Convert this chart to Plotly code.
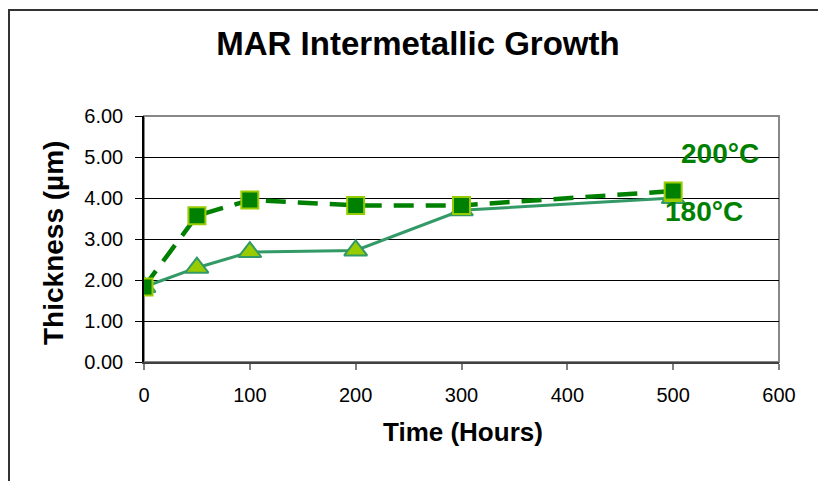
import plotly.graph_objects as go

# ---- data ----
hours_180 = [0, 50, 100, 200, 300, 500]
thick_180 = [1.83, 2.30, 2.68, 2.72, 3.70, 4.00]
hours_200 = [0, 50, 100, 200, 300, 500]
thick_200 = [1.83, 3.57, 3.95, 3.82, 3.82, 4.17]
x_ticks = [0, 100, 200, 300, 400, 500, 600]
y_ticks = [0, 1, 2, 3, 4, 5, 6]
title_text = "MAR Intermetallic Growth"
x_title = "Time (Hours)"
y_title = "Thickness (µm)"
labels = ["180°C", "200°C"]

W, H = 818, 481
L, R, T, B = 144, 39, 116, 119
PW, PH = W - L - R, H - T - B


def px(x):
    return (x - L) / PW


def py(y):
    return (H - B - y) / PH


FONT = "Liberation Sans, Arial, sans-serif"
DARK = "#008000"
SEA = "#339966"
LIME = "#99CC00"

fig = go.Figure()
fig.add_trace(go.Scatter(
    x=hours_180, y=thick_180, mode="lines+markers", name=labels[0],
    line=dict(color=SEA, width=3),
    marker=dict(symbol="triangle-up", size=20, color=LIME,
                line=dict(color=SEA, width=2)),
))
fig.add_trace(go.Scatter(
    x=hours_200, y=thick_200, mode="lines+markers", name=labels[1],
    line=dict(color=DARK, width=4.5, dash="20px,12px"),
    marker=dict(symbol="square", size=17, color=DARK,
                line=dict(color=LIME, width=2)),
))

fig.update_layout(
    width=W, height=H,
    margin=dict(l=L, r=R, t=T, b=B, pad=0),
    paper_bgcolor="white", plot_bgcolor="white",
    showlegend=False,
    font=dict(family=FONT, color="black"),
    title=dict(text=f"<b>{title_text}</b>", x=418 / W, xref="container",
               y=1 - 43 / H, yref="container", xanchor="center", yanchor="middle",
               font=dict(size=33, family=FONT, color="black")),
)
fig.update_xaxes(
    range=[0, 600], tickvals=x_ticks, showgrid=False, zeroline=False,
    showline=True, linecolor="#404040", linewidth=2,
    ticks="outside", ticklen=6, tickcolor="#808080", tickwidth=2,
    tickfont=dict(size=20, family=FONT), ticklabelstandoff=8,
)
fig.update_yaxes(
    range=[0, 6], tickvals=y_ticks, tickformat=".2f",
    showgrid=True, gridcolor="black", gridwidth=1, zeroline=False,
    showline=True, linecolor="black", linewidth=1.5,
    ticks="outside", ticklen=7, tickcolor="black", tickwidth=1,
    tickfont=dict(size=20, family=FONT), ticklabelstandoff=8,
)

# plot-area border (gray) and outer chart border
fig.add_shape(type="rect", xref="paper", yref="paper", x0=0, x1=1, y0=0, y1=1,
              line=dict(color="#888888", width=2), layer="below")
fig.add_shape(type="rect", xref="paper", yref="paper",
              x0=px(9), x1=px(W + 20), y0=py(H + 20), y1=py(10),
              line=dict(color="#333333", width=2), layer="below")

# axis titles
fig.add_annotation(text=f"<b>{x_title}</b>", xref="paper", yref="paper",
                   x=px(463), y=py(432), showarrow=False,
                   xanchor="center", yanchor="middle",
                   font=dict(size=26, family=FONT, color="black"))
fig.add_annotation(text=f"<b>{y_title}</b>", xref="paper", yref="paper",
                   x=px(53), y=py(243), showarrow=False, textangle=-90,
                   xanchor="center", yanchor="middle",
                   font=dict(size=28, family=FONT, color="black"))

# series labels
fig.add_annotation(text=f"<b>{labels[1]}</b>", xref="paper", yref="paper",
                   x=px(720), y=py(153), showarrow=False,
                   xanchor="center", yanchor="middle",
                   font=dict(size=28, family=FONT, color=DARK))
fig.add_annotation(text=f"<b>{labels[0]}</b>", xref="paper", yref="paper",
                   x=px(704), y=py(211), showarrow=False,
                   xanchor="center", yanchor="middle",
                   font=dict(size=28, family=FONT, color=DARK))

fig.write_html("out.html")
